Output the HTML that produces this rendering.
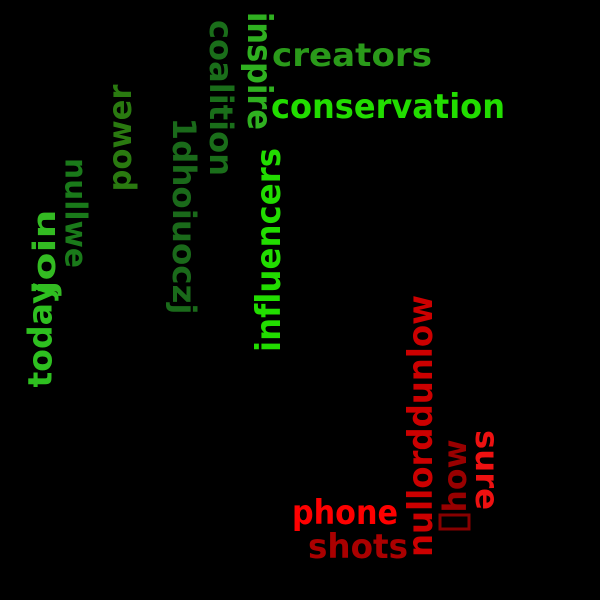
<!DOCTYPE html>
<html><head><meta charset="utf-8"><style>
html,body{margin:0;padding:0;background:#000;}
svg{display:block;}
text{font-family:"DejaVu Sans","Liberation Sans",sans-serif;font-weight:bold;font-variant-ligatures:none;font-feature-settings:"liga" 0,"clig" 0;}
</style></head><body>
<svg width="600" height="600" viewBox="0 0 600 600">
<rect width="600" height="600" fill="#000"/>
<g id="words"></g>
<rect x="440" y="515" width="29" height="14" fill="none" stroke="#880000" stroke-width="3"/>
</svg>
<script>
const words = ["inspire","coalition","creators","conservation","1dhoiuoczj","power","nullwe","join","today","influencers","nullorddunlow","how","sure","phone","shots"];
const centersX = [259,221,352,388,184,120,75,45,40,269,421,455,487,345,358];
const centersY = [71,98,55,107,216,138,213,252,335,250,426,476,470,513,547];
const lengths = [118,156,160,234,197,107,110,85,105,204,262,73,80,106,100];
const rotations = [90,90,0,0,90,-90,90,-90,-90,-90,-90,-90,90,0,0];
const sizes = [34,32,32,34,32,32,30,31,33,34,34,32,32,34,34];
const colors = ["#2fb020","#1a6e1a","#2a9a1a","#22dd00","#1a6a1a","#2a7a10","#1a7a1a","#33bb22","#2ec020","#22dd00","#cc0000","#990000","#ee1111","#ff0000","#aa0000"];
const g = document.getElementById('words');
const NS = "http://www.w3.org/2000/svg";
words.forEach((w,i)=>{
  const t = document.createElementNS(NS,'text');
  
  
  t.setAttribute('transform', `translate(${centersX[i]},${centersY[i]}) rotate(${rotations[i]})`);
  t.setAttribute('text-anchor','middle');
  t.setAttribute('dominant-baseline','central');
  t.setAttribute('font-size', sizes[i]);
  t.setAttribute('fill', colors[i]);
  t.setAttribute('textLength', lengths[i]);
  t.setAttribute('lengthAdjust','spacingAndGlyphs');
  t.textContent = w;
  g.appendChild(t);
});
</script>
</body></html>
